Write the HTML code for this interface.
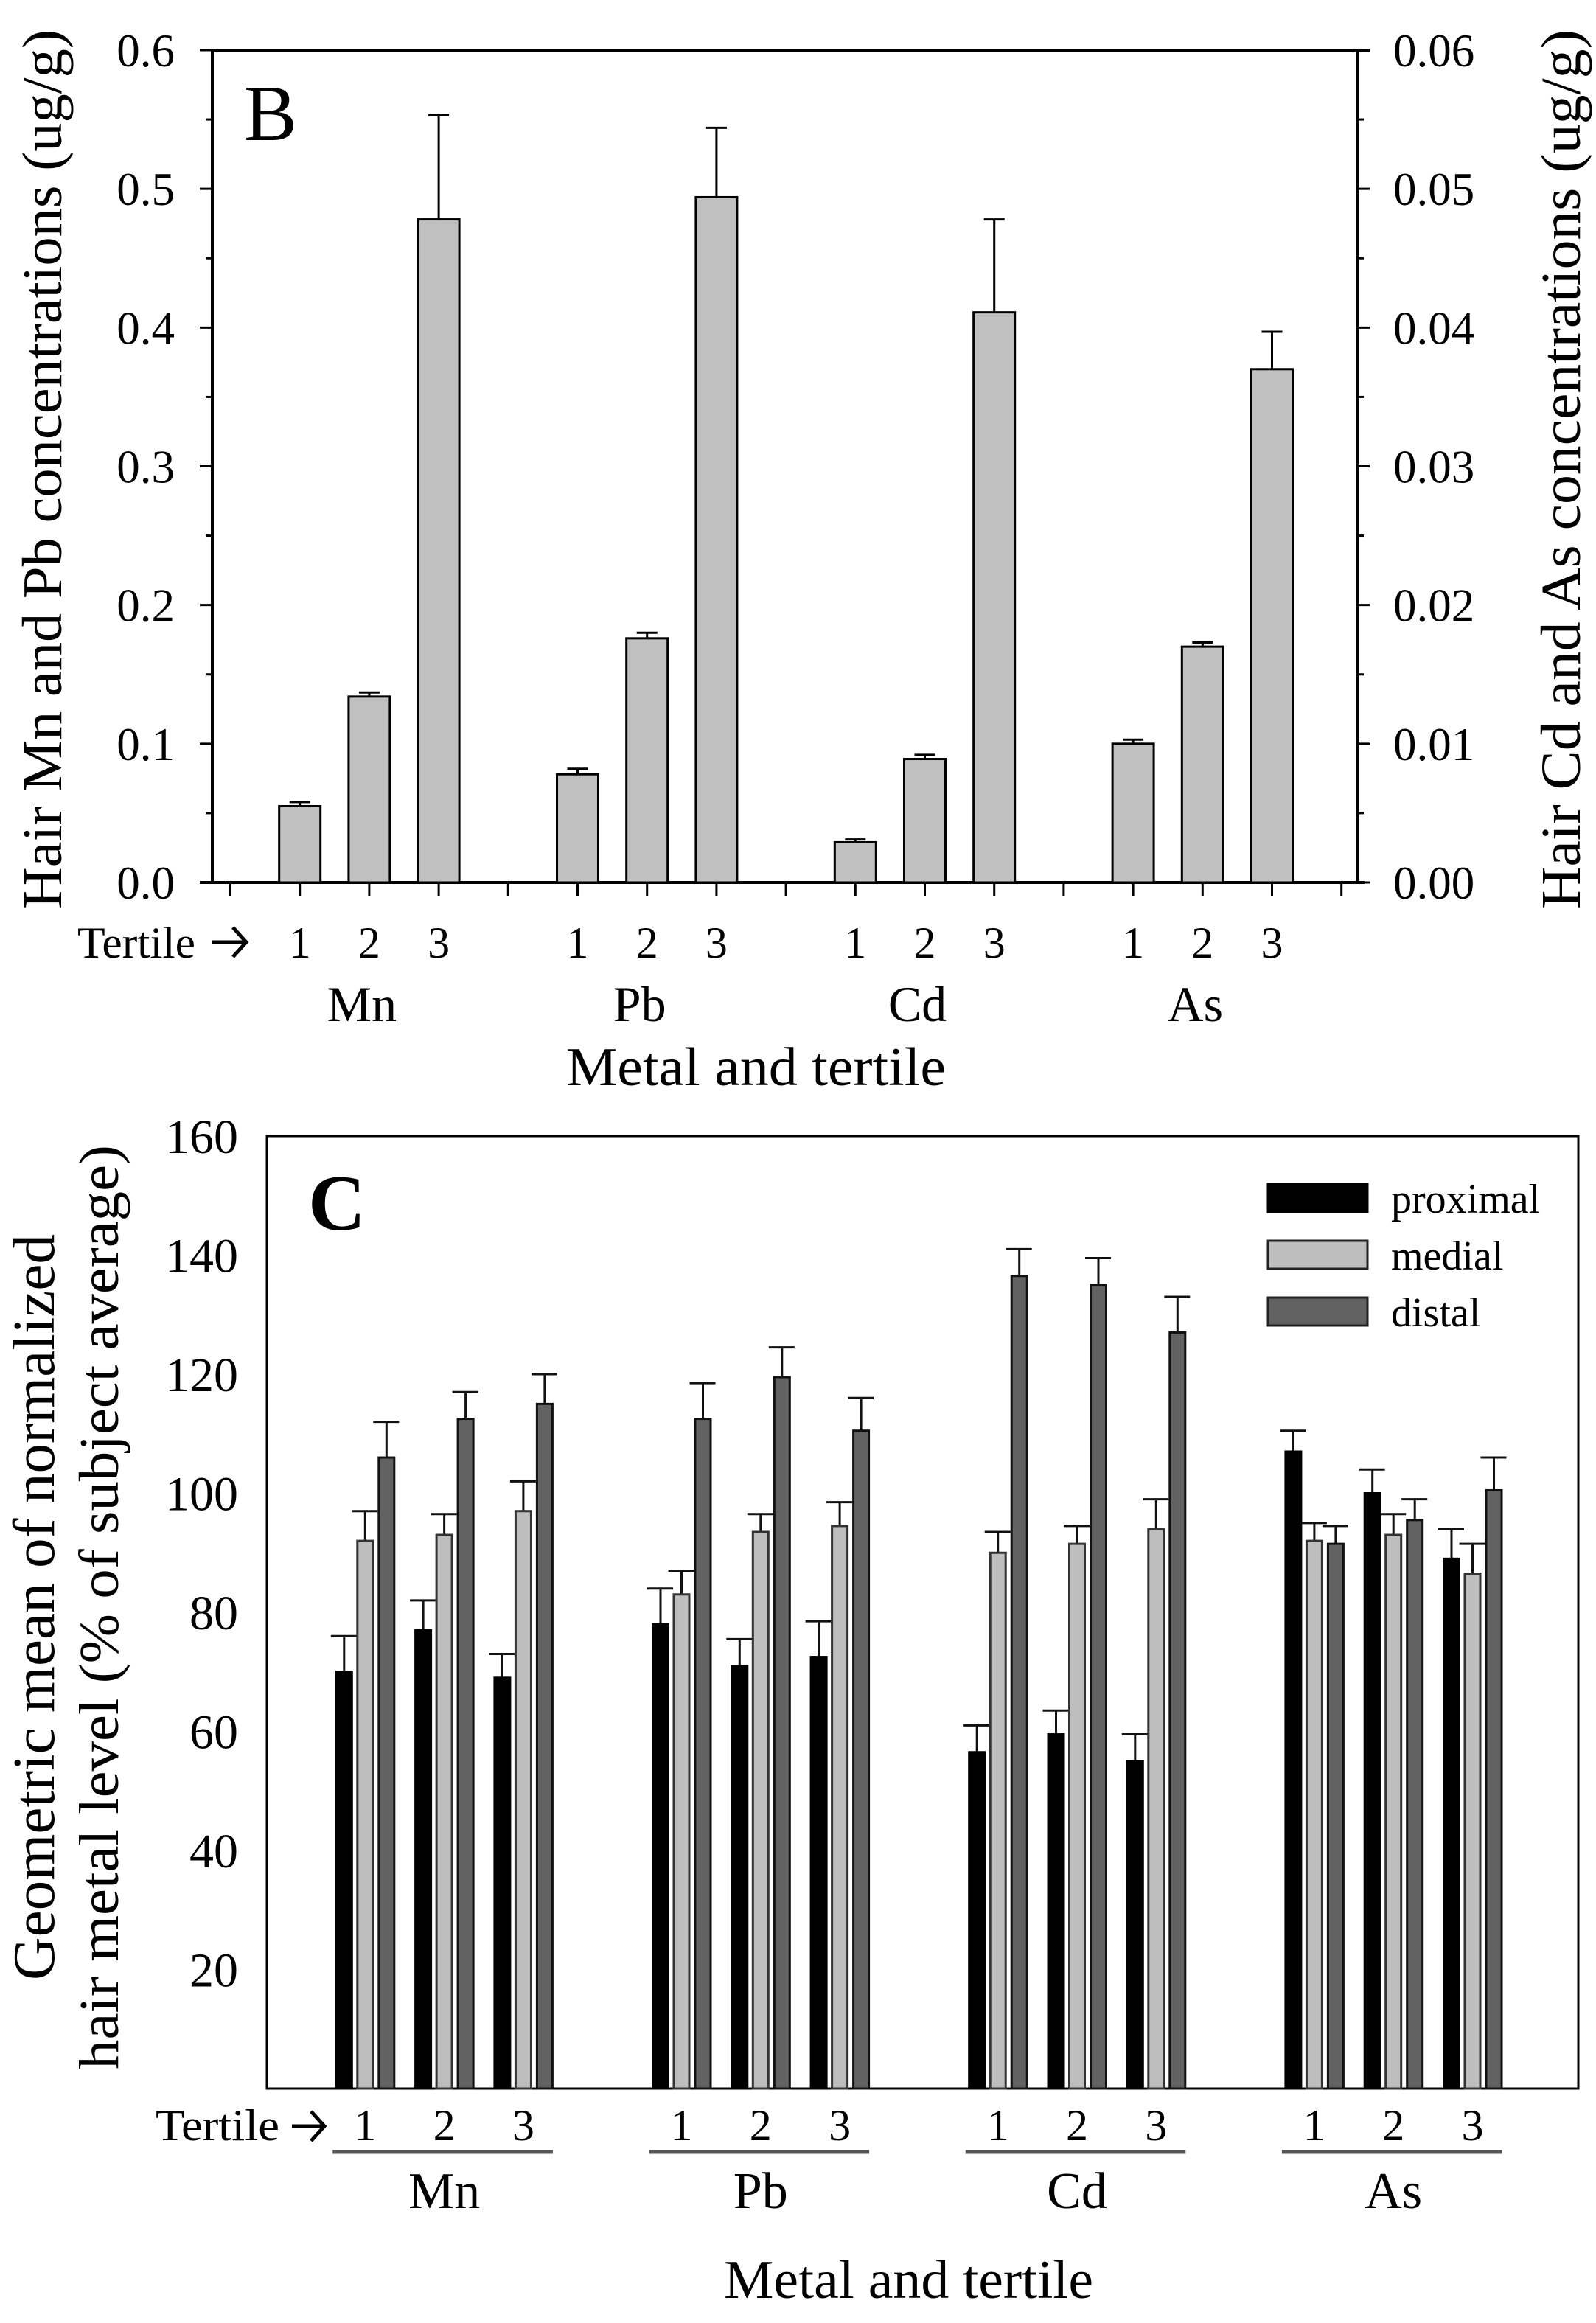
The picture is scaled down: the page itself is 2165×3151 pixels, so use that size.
<!DOCTYPE html>
<html><head><meta charset="utf-8"><style>
html,body{margin:0;padding:0;background:#fff;}
svg, svg text{font-family:"Liberation Serif","Times New Roman",serif;}
svg{display:block;}
</style></head><body>
<svg id="fig" width="2165" height="3151" viewBox="0 0 2165 3151" xmlns="http://www.w3.org/2000/svg" font-family="Liberation Serif, serif">
<rect width="2165" height="3151" fill="#fff"/>
<g id="panelB"></g>
<g id="panelC"></g>
</svg>
<script>
// ---------- Panel B data ----------
const bMetals = ["Mn","Pb","Cd","As"];
const bTertiles = ["1","2","3"];
const bLeftTicks = ["0.0","0.1","0.2","0.3","0.4","0.5","0.6"];
const bRightTicks = ["0.00","0.01","0.02","0.03","0.04","0.05","0.06"];
const bMnVals = [0.055,0.134,0.478];
const bMnErr  = [0.058,0.137,0.553];
const bPbVals = [0.078,0.176,0.494];
const bPbErr  = [0.082,0.180,0.544];
const bCdVals = [0.0029,0.0089,0.0411];
const bCdErr  = [0.0031,0.0092,0.0478];
const bAsVals = [0.0100,0.0170,0.0370];
const bAsErr  = [0.0103,0.0173,0.0397];

// ---------- Panel C data ----------
const cMetals = ["Mn","Pb","Cd","As"];
const cTicks = ["20","40","60","80","100","120","140","160"];
const cSeries = ["proximal","medial","distal"];
const cProximal    = [70,77,69, 78,71,72.5, 56.5,59.5,55, 107,100,89];
const cProximalErr = [76,82,73, 84,75.5,78.5, 61,63.5,59.5, 110.5,104,94];
const cMedial      = [92,93,97, 83,93.5,94.5, 90,91.5,94, 92,93,86.5];
const cMedialErr   = [97,96.5,102, 87,96.5,98.5, 93.5,94.5,99, 95,96.5,91.5];
const cDistal      = [106,112.5,115, 112.5,119.5,110.5, 136.5,135,127, 91.5,95.5,100.5];
const cDistalErr   = [112,117,120, 118.5,124.5,116, 141,139.5,133, 94.5,99,106];

const NS="http://www.w3.org/2000/svg";
function mk(parent,tag,attrs,text){
  const e=document.createElementNS(NS,tag);
  for(const k in attrs) e.setAttribute(k,attrs[k]);
  if(text!==undefined) e.textContent=text;
  parent.appendChild(e); return e;
}
function arrow(g,x1,x2,yc){
  const a=mk(g,'path',{d:'M'+x1+' '+yc+' L'+x2+' '+yc+' M'+(x2-18)+' '+(yc-20)+' L'+x2+' '+yc+' L'+(x2-18)+' '+(yc+20),fill:'none',stroke:'#000','stroke-width':5});
  
  
}

// ===== Panel B =====
(function(){
  const g=document.getElementById('panelB');
  const L=288,R=1841,T=68,B=1197;
  const yL=v=>B-(v/0.6)*(B-T);
  const yR=v=>B-(v/0.06)*(B-T);
  const xIdx=i=>312.5+i*94.2;
  let e;
  e=mk(g,'line',{x1:L,y1:T,x2:R+17,y2:T,stroke:'#000','stroke-width':4});
   
  e=mk(g,'line',{x1:L,y1:T,x2:L,y2:B,stroke:'#000','stroke-width':4});
   
  e=mk(g,'line',{x1:R,y1:T,x2:R,y2:B,stroke:'#000','stroke-width':4});
   
  e=mk(g,'line',{x1:271,y1:B,x2:R+10,y2:B,stroke:'#000','stroke-width':4});
   
  bLeftTicks.forEach((t,i)=>{
    const v=parseFloat(t), y=yL(v);
    const tk=mk(g,'line',{x1:L-17,y1:y,x2:L,y2:y,stroke:'#000','stroke-width':3});
     
    if(i<bLeftTicks.length-1){
      const m=mk(g,'line',{x1:L-9,y1:yL(v+0.05),x2:L,y2:yL(v+0.05),stroke:'#000','stroke-width':3});
       
    }
    const tx=mk(g,'text',{x:237,y:y+22,'font-size':63,'text-anchor':'end'},t);
     
  });
  bRightTicks.forEach((t,i)=>{
    const v=parseFloat(t), y=yR(v);
    const tk=mk(g,'line',{x1:R,y1:y,x2:R+17,y2:y,stroke:'#000','stroke-width':3});
     
    if(i<bRightTicks.length-1){
      const m=mk(g,'line',{x1:R,y1:yR(v+0.005),x2:R+9,y2:yR(v+0.005),stroke:'#000','stroke-width':3});
       
    }
    const tx=mk(g,'text',{x:1890,y:y+22,'font-size':63},t);
     
  });
  for(let i=0;i<=16;i++){
    const tk=mk(g,'line',{x1:xIdx(i),y1:B,x2:xIdx(i),y2:B+19,stroke:'#000','stroke-width':3});
     
  }
  const vals=[bMnVals,bPbVals,bCdVals,bAsVals], errs=[bMnErr,bPbErr,bCdErr,bAsErr];
  const scales=[yL,yL,yR,yR];
  bMetals.forEach((m,mi)=>{
    bTertiles.forEach((t,ti)=>{
      const cx=xIdx(mi*4+1+ti), sc=scales[mi];
      const yv=sc(vals[mi][ti]), ye=sc(errs[mi][ti]);
      const eb=mk(g,'line',{x1:cx,y1:yv,x2:cx,y2:ye,stroke:'#000','stroke-width':3});
       
      const cp=mk(g,'line',{x1:cx-14,y1:ye,x2:cx+14,y2:ye,stroke:'#000','stroke-width':3});
       
      const r=mk(g,'rect',{x:cx-28,y:yv,width:56,height:B-yv,fill:'#c0c0c0',stroke:'#000','stroke-width':3});
       
      const tl=mk(g,'text',{x:cx,y:1299,'font-size':60,'text-anchor':'middle'},t);
       
    });
    const ml=mk(g,'text',{x:xIdx(mi*4+2)-10,y:1385,'font-size':68,'text-anchor':'middle'},m);
     
  });
  e=mk(g,'text',{x:105,y:1299,'font-size':60,textLength:160,lengthAdjust:'spacingAndGlyphs'},'Tertile');
   
  arrow(g,288,334,1278);
  e=mk(g,'text',{x:768,y:1472,'font-size':74,textLength:515,lengthAdjust:'spacingAndGlyphs'},'Metal and tertile');
   
  e=mk(g,'text',{x:331,y:190,'font-size':108},'B');
   
  e=mk(g,'text',{x:0,y:0,'font-size':76,transform:'translate(83,1233) rotate(-90)',textLength:1193,lengthAdjust:'spacingAndGlyphs'},'Hair Mn and Pb concentrations (ug/g)');
   
  e=mk(g,'text',{x:0,y:0,'font-size':76,transform:'translate(2143,1233) rotate(-90)',textLength:1193,lengthAdjust:'spacingAndGlyphs'},'Hair Cd and As concentrations (ug/g)');
   
})();

// ===== Panel C =====
(function(){
  const g=document.getElementById('panelC');
  const L=362,R=2141,T=1541,B=2833;
  const y=v=>B-(v/160)*(B-T);
  const xIdx=i=>388+i*107.3;
  let e=mk(g,'rect',{x:L,y:T,width:R-L,height:B-T,fill:'none',stroke:'#000','stroke-width':3});
   
  cTicks.forEach(t=>{
    const tx=mk(g,'text',{x:323,y:y(parseFloat(t))+23,'font-size':66,'text-anchor':'end'},t);
     
  });
  const vals=[cProximal,cMedial,cDistal], errs=[cProximalErr,cMedialErr,cDistalErr];
  const fills=['#000','#bebebe','#626262'], strokes=['#000','#333','#111'];
  const offs=[-28.5,0,29];
  for(let k=0;k<12;k++){
    const mi=Math.floor(k/3), ti=k%3;
    const c=xIdx(mi*4+1+ti);
    for(let s=0;s<3;s++){
      const cx=c+offs[s], yv=y(vals[s][k]), ye=y(errs[s][k]);
      const eb=mk(g,'line',{x1:cx,y1:yv,x2:cx,y2:ye,stroke:'#111','stroke-width':3});
       
      const cp=mk(g,'line',{x1:cx-18,y1:ye,x2:cx+17,y2:ye,stroke:'#111','stroke-width':3});
       
      const r=mk(g,'rect',{x:cx-10.5,y:yv,width:21,height:B-yv,fill:fills[s],stroke:strokes[s],'stroke-width':3});
       
    }
    const tl=mk(g,'text',{x:c,y:2903,'font-size':60,'text-anchor':'middle'},String(ti+1));
     
  }
  cMetals.forEach((m,mi)=>{
    const c1=xIdx(mi*4+1), c3=xIdx(mi*4+3);
    const ul=mk(g,'line',{x1:c1-44,y1:2919,x2:c3+40,y2:2919,stroke:'#555','stroke-width':5});
     
    const ml=mk(g,'text',{x:xIdx(mi*4+2),y:2995,'font-size':70,'text-anchor':'middle'},m);
     
  });
  e=mk(g,'text',{x:211,y:2903,'font-size':60,textLength:168,lengthAdjust:'spacingAndGlyphs'},'Tertile');
   
  arrow(g,396,440,2884);
  e=mk(g,'text',{x:982,y:3117,'font-size':74,textLength:501,lengthAdjust:'spacingAndGlyphs'},'Metal and tertile');
   
  e=mk(g,'text',{x:418,y:1668,'font-size':108,'font-weight':'bold'},'C');
   
  e=mk(g,'text',{x:0,y:0,'font-size':80,transform:'translate(73,2686) rotate(-90)',textLength:1012,lengthAdjust:'spacingAndGlyphs'},'Geometric mean of normalized');
   
  e=mk(g,'text',{x:0,y:0,'font-size':76,transform:'translate(160,2807) rotate(-90)',textLength:1254,lengthAdjust:'spacingAndGlyphs'},'hair metal level (% of subject average)');
   
  const ly=[1606,1683,1760];
  cSeries.forEach((s,i)=>{
    const sw=mk(g,'rect',{x:1720,y:ly[i],width:135,height:38,fill:fills[i],stroke:i===0?'#000':'#222','stroke-width':3});
     
    const lt=mk(g,'text',{x:1887,y:ly[i]+39,'font-size':56},s);
     
  });
})();
</script>
</body></html>
